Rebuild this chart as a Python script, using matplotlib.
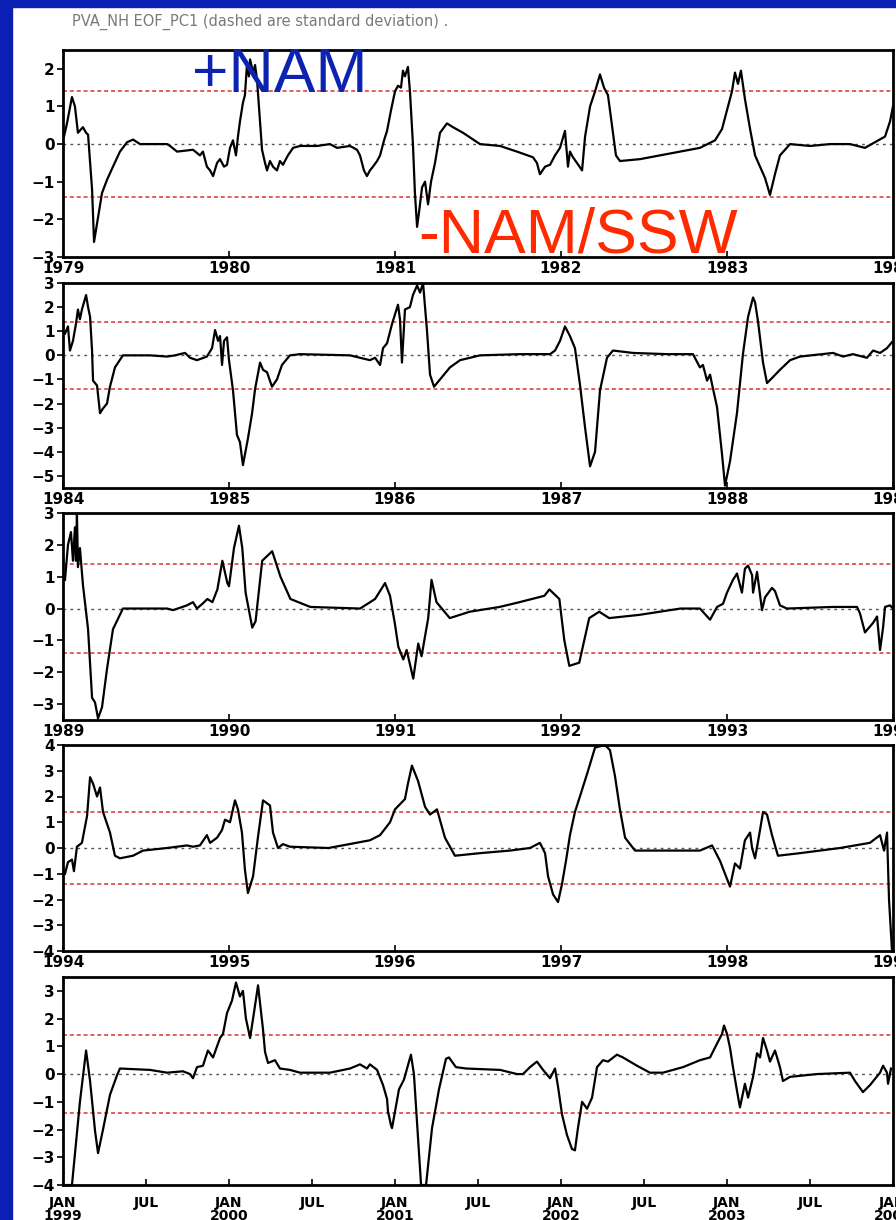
import matplotlib
matplotlib.use("Agg")
import matplotlib.pyplot as plt
from matplotlib.patches import Rectangle
import numpy as np

# PVA_NH EOF PC1, one row per five winters; times are years since Jan of the row's first year
start_years = [1979, 1984, 1989, 1994, 1999]
ylims = [(-3, 2.5), (-5.5, 3), (-3.5, 3), (-4, 4), (-4, 3.5)]
yticks = [range(-3, 3), range(-5, 4), range(-3, 4), range(-4, 5), range(-4, 4)]
std_dev = 1.4

t1 = [0.006, 0.024, 0.054, 0.072, 0.09, 0.12, 0.139, 0.151, 0.175, 0.187, 0.211, 0.235, 0.265,
      0.301, 0.343, 0.386, 0.422, 0.464, 0.542, 0.627, 0.645, 0.687, 0.783, 0.825, 0.843, 0.867,
      0.886, 0.904, 0.928, 0.946, 0.97, 0.988, 1.006, 1.024, 1.042, 1.054, 1.066, 1.084, 1.096,
      1.108, 1.12, 1.127, 1.145, 1.157, 1.169, 1.187, 1.199, 1.217, 1.229, 1.247, 1.265, 1.289,
      1.307, 1.325, 1.355, 1.386, 1.428, 1.53, 1.608, 1.651, 1.729, 1.771, 1.789, 1.813, 1.831,
      1.849, 1.867, 1.892, 1.91, 1.934, 1.952, 1.976, 2.0, 2.018, 2.036, 2.048, 2.06, 2.078,
      2.09, 2.108, 2.12, 2.133, 2.145, 2.163, 2.181, 2.199, 2.217, 2.241, 2.271, 2.313, 2.349,
      2.41, 2.512, 2.633, 2.735, 2.831, 2.855, 2.873, 2.904, 2.934, 2.964, 2.994, 3.024, 3.042,
      3.054, 3.072, 3.096, 3.127, 3.145, 3.175, 3.205, 3.235, 3.259, 3.283, 3.307, 3.331, 3.355,
      3.476, 3.596, 3.717, 3.837, 3.928, 3.97, 4.006, 4.03, 4.048, 4.066, 4.084, 4.108, 4.139,
      4.169, 4.199, 4.229, 4.259, 4.289, 4.319, 4.38, 4.5, 4.62, 4.741, 4.831, 4.892, 4.952,
      4.982, 5.0]
v1 = [0.2, 0.55, 1.25, 1.0, 0.3, 0.45, 0.3, 0.25, -1.2, -2.6, -1.95, -1.3, -0.95,
      -0.6, -0.2, 0.05, 0.12, 0.0, 0.0, 0.0, -0.05, -0.2, -0.15, -0.3, -0.2, -0.6,
      -0.7, -0.85, -0.5, -0.4, -0.6, -0.55, -0.1, 0.1, -0.3, 0.2, 0.6, 1.1, 1.3,
      2.1, 1.8, 2.25, 1.9, 2.1, 1.7, 0.6, -0.15, -0.5, -0.7, -0.45, -0.6, -0.7,
      -0.45, -0.55, -0.3, -0.1, -0.05, -0.05, 0.0, -0.1, -0.05, -0.15, -0.3, -0.7, -0.85,
      -0.7, -0.6, -0.45, -0.3, 0.1, 0.35, 0.9, 1.4, 1.55, 1.5, 1.95, 1.8, 2.05,
      1.4, 0.0, -1.3, -2.2, -1.8, -1.15, -1.0, -1.6, -1.0, -0.5, 0.3, 0.55, 0.45,
      0.3, 0.0, -0.05, -0.2, -0.35, -0.5, -0.8, -0.6, -0.55, -0.3, -0.1, 0.35, -0.6,
      -0.2, -0.35, -0.5, -0.7, 0.2, 1.0, 1.4, 1.85, 1.5, 1.3, 0.5, -0.3, -0.45,
      -0.4, -0.3, -0.2, -0.1, 0.1, 0.4, 1.0, 1.4, 1.9, 1.6, 1.95, 1.2, 0.4,
      -0.3, -0.6, -0.9, -1.35, -0.8, -0.3, 0.0, -0.05, 0.0, 0.0, -0.1, 0.05, 0.2,
      0.6, 1.0]

t2 = [0.012, 0.03, 0.042, 0.06, 0.078, 0.09, 0.102, 0.114, 0.139, 0.151, 0.163, 0.175, 0.181,
      0.205, 0.223, 0.241, 0.265, 0.283, 0.313, 0.361, 0.524, 0.627, 0.675, 0.735, 0.765, 0.807,
      0.867, 0.898, 0.916, 0.934, 0.946, 0.958, 0.97, 0.988, 1.0, 1.024, 1.048, 1.066, 1.084,
      1.114, 1.139, 1.157, 1.187, 1.205, 1.229, 1.259, 1.289, 1.319, 1.367, 1.428, 1.729, 1.849,
      1.88, 1.91, 1.928, 1.952, 1.982, 2.0, 2.018, 2.03, 2.042, 2.06, 2.09, 2.108, 2.133, 2.151,
      2.169, 2.193, 2.211, 2.235, 2.271, 2.331, 2.392, 2.512, 2.753, 2.934, 2.964, 2.994, 3.024,
      3.054, 3.084, 3.114, 3.145, 3.175, 3.205, 3.235, 3.277, 3.313, 3.434, 3.639, 3.795, 3.837,
      3.855, 3.88, 3.898, 3.91, 3.94, 3.97, 3.988, 4.018, 4.06, 4.096, 4.127, 4.157, 4.169,
      4.187, 4.217, 4.241, 4.277, 4.319, 4.38, 4.44, 4.639, 4.699, 4.759, 4.843, 4.88, 4.922,
      4.964, 4.994]
v2 = [0.9, 1.2, 0.2, 0.6, 1.3, 1.9, 1.5, 1.9, 2.5, 2.0, 1.6, 0.2, -1.05,
      -1.25, -2.4, -2.2, -2.0, -1.3, -0.5, 0.0, 0.0, -0.05, 0.0, 0.1, -0.1, -0.2,
      -0.05, 0.3, 1.05, 0.6, 0.8, -0.4, 0.6, 0.75, -0.2, -1.45, -3.3, -3.6, -4.55,
      -3.45, -2.4, -1.4, -0.3, -0.6, -0.7, -1.3, -1.0, -0.4, 0.0, 0.05, 0.0, -0.2,
      -0.1, -0.4, 0.3, 0.5, 1.3, 1.7, 2.1, 1.5, -0.3, 1.9, 2.0, 2.5, 2.9, 2.6,
      3.0, 1.0, -0.8, -1.3, -1.0, -0.5, -0.2, 0.0, 0.05, 0.05, 0.2, 0.6, 1.2,
      0.8, 0.3, -1.2, -3.0, -4.6, -4.0, -1.45, -0.1, 0.2, 0.1, 0.05, 0.05, -0.5,
      -0.4, -1.05, -0.8, -1.2, -2.15, -4.1, -5.4, -4.4, -2.4, 0.05, 1.6, 2.4, 2.2,
      1.4, -0.3, -1.15, -0.9, -0.6, -0.2, -0.05, 0.1, -0.05, 0.05, -0.1, 0.2, 0.1,
      0.3, 0.55]

t3 = [0.012, 0.03, 0.048, 0.06, 0.072, 0.078, 0.084, 0.09, 0.102, 0.12, 0.151, 0.175, 0.193,
      0.211, 0.235, 0.265, 0.301, 0.361, 0.627, 0.663, 0.747, 0.783, 0.807, 0.84, 0.87, 0.9,
      0.93, 0.96, 0.99, 1.0, 1.03, 1.06, 1.08, 1.1, 1.14, 1.16, 1.2, 1.26, 1.31, 1.37, 1.49,
      1.79, 1.88, 1.94, 1.97, 2.0, 2.02, 2.05, 2.07, 2.11, 2.14, 2.16, 2.2, 2.22, 2.25, 2.33,
      2.45, 2.63, 2.75, 2.9, 2.93, 2.99, 3.02, 3.05, 3.11, 3.17, 3.23, 3.29, 3.47, 3.72, 3.837,
      3.898, 3.94, 3.976, 4.0, 4.036, 4.06, 4.09, 4.108, 4.127, 4.151, 4.157, 4.181, 4.211,
      4.229, 4.271, 4.289, 4.319, 4.361, 4.639, 4.783, 4.801, 4.831, 4.88, 4.904, 4.922, 4.94,
      4.952, 4.982, 5.0]
v3 = [0.9, 2.0, 2.4, 1.5, 2.55, 1.5, 3.0, 1.3, 1.9, 0.75, -0.65, -2.8, -2.95,
      -3.45, -3.1, -1.9, -0.65, 0.0, 0.0, -0.05, 0.1, 0.2, 0.0, 0.15, 0.3, 0.2,
      0.6, 1.5, 0.8, 0.7, 1.9, 2.6, 1.9, 0.5, -0.6, -0.4, 1.5, 1.8, 1.0, 0.3, 0.05,
      0.0, 0.3, 0.8, 0.4, -0.5, -1.2, -1.6, -1.3, -2.2, -1.1, -1.5, -0.3, 0.9, 0.2, -0.3,
      -0.1, 0.05, 0.2, 0.4, 0.6, 0.3, -1.0, -1.8, -1.7, -0.3, -0.1, -0.3, -0.2, 0.0, 0.0,
      -0.35, 0.05, 0.15, 0.5, 0.9, 1.1, 0.5, 1.25, 1.35, 1.05, 0.5, 1.15, -0.05,
      0.35, 0.65, 0.55, 0.1, 0.0, 0.05, 0.05, -0.15, -0.75, -0.45, -0.25, -1.3, -0.6,
      0.05, 0.1, 0.0]

t4 = [0.012, 0.03, 0.054, 0.066, 0.084, 0.114, 0.145, 0.163, 0.181, 0.205, 0.223, 0.241, 0.283,
      0.313, 0.343, 0.422, 0.482, 0.627, 0.747, 0.783, 0.825, 0.867, 0.886, 0.928, 0.958, 0.976,
      1.006, 1.036, 1.054, 1.078, 1.096, 1.114, 1.145, 1.175, 1.205, 1.247, 1.265, 1.295, 1.325,
      1.367, 1.6, 1.849, 1.91, 1.97, 2.0, 2.06, 2.078, 2.102, 2.139, 2.181, 2.211, 2.253, 2.301,
      2.361, 2.512, 2.693, 2.813, 2.873, 2.904, 2.922, 2.952, 2.982, 3.006, 3.03, 3.054, 3.084,
      3.114, 3.163, 3.205, 3.265, 3.295, 3.325, 3.355, 3.386, 3.446, 3.837, 3.91, 3.958, 3.988,
      4.018, 4.048, 4.078, 4.108, 4.139, 4.151, 4.169, 4.199, 4.217, 4.241, 4.271, 4.307, 4.44,
      4.681, 4.861, 4.922, 4.946, 4.964, 4.976, 4.994]
v4 = [-1.0, -0.55, -0.45, -0.9, 0.05, 0.2, 1.25, 2.75, 2.5, 2.0, 2.35, 1.4, 0.6,
      -0.3, -0.4, -0.3, -0.1, 0.0, 0.1, 0.05, 0.1, 0.5, 0.2, 0.4, 0.7, 1.1,
      1.0, 1.85, 1.5, 0.6, -0.85, -1.75, -1.1, 0.45, 1.85, 1.65, 0.6, 0.0, 0.15,
      0.05, 0.0, 0.3, 0.5, 1.0, 1.5, 1.9, 2.5, 3.2, 2.6, 1.6, 1.3, 1.5, 0.4,
      -0.3, -0.2, -0.1, 0.0, 0.2, -0.2, -1.1, -1.8, -2.1, -1.4, -0.5, 0.5, 1.4,
      2.0, 3.0, 3.9, 4.0, 3.8, 2.8, 1.5, 0.4, -0.1, -0.1, 0.1, -0.5, -1.0,
      -1.5, -0.6, -0.8, 0.3, 0.6, 0.0, -0.4, 0.7, 1.4, 1.3, 0.5, -0.3, -0.2,
      0.0, 0.2, 0.5, -0.1, 0.6, -2.0, -4.0]

t5 = [0.024, 0.054, 0.102, 0.139, 0.163, 0.193, 0.211, 0.241, 0.283, 0.325, 0.343, 0.524, 0.627,
      0.723, 0.765, 0.783, 0.807, 0.843, 0.873, 0.904, 0.946, 0.964, 0.988, 1.018, 1.042, 1.066,
      1.084, 1.102, 1.127, 1.145, 1.175, 1.205, 1.217, 1.235, 1.277, 1.307, 1.367, 1.428, 1.608,
      1.729, 1.789, 1.831, 1.849, 1.892, 1.928, 1.952, 1.958, 1.976, 1.982, 2.024, 2.054, 2.096,
      2.114, 2.157, 2.187, 2.223, 2.265, 2.307, 2.325, 2.367, 2.428, 2.633, 2.735, 2.771, 2.813,
      2.855, 2.892, 2.934, 2.964, 2.982, 3.006, 3.036, 3.066, 3.084, 3.102, 3.127, 3.157, 3.187,
      3.217, 3.253, 3.283, 3.337, 3.373, 3.458, 3.536, 3.614, 3.735, 3.837, 3.898, 3.94, 3.97,
      3.982, 4.0, 4.018, 4.036, 4.06, 4.078, 4.108, 4.127, 4.157, 4.181, 4.199, 4.217, 4.241,
      4.259, 4.289, 4.319, 4.337, 4.38, 4.542, 4.741, 4.771, 4.819, 4.861, 4.922, 4.94, 4.964,
      4.97, 4.988]
v5 = [-4.0, -4.0, -1.0, 0.85, -0.25, -2.05, -2.85, -2.0, -0.75, -0.05, 0.2, 0.15, 0.05,
      0.1, 0.0, -0.15, 0.25, 0.3, 0.85, 0.6, 1.3, 1.45, 2.2, 2.65, 3.3, 2.8,
      3.0, 2.0, 1.3, 2.0, 3.2, 1.6, 0.8, 0.4, 0.5, 0.2, 0.15, 0.05, 0.05,
      0.2, 0.35, 0.2, 0.35, 0.15, -0.4, -0.9, -1.35, -1.85, -1.95, -0.55, -0.2, 0.7,
      0.0, -4.0, -4.0, -1.95, -0.55, 0.55, 0.6, 0.25, 0.2, 0.15, 0.0, 0.0, 0.25,
      0.45, 0.15, -0.15, 0.2, -0.45, -1.45, -2.2, -2.7, -2.75, -1.95, -1.0, -1.25, -0.85,
      0.25, 0.5, 0.45, 0.7, 0.6, 0.3, 0.05, 0.05, 0.25, 0.5, 0.6, 1.1, 1.45,
      1.75, 1.45, 0.95, 0.25, -0.6, -1.2, -0.35, -0.85, -0.1, 0.75, 0.6, 1.3, 0.85,
      0.45, 0.85, 0.25, -0.25, -0.1, 0.0, 0.05, -0.25, -0.65, -0.4, 0.05, 0.3, 0.05,
      -0.35, 0.2]

series = [(t1, v1), (t2, v2), (t3, v3), (t4, v4), (t5, v5)]

month_labels = ["JAN\n1999", "JUL", "JAN\n2000", "JUL", "JAN\n2001", "JUL",
                "JAN\n2002", "JUL", "JAN\n2003", "JUL", "JAN\n2004"]

border_blue = "#0b1fb4"
W, H = 896, 1220
fig = plt.figure(figsize=(W / 100, H / 100), dpi=100, facecolor="white")

# panel frames in pixels: (top, bottom)
frames = [(50, 257), (283, 488), (513, 720), (745, 951), (977, 1185)]
left_px, right_px = 63, 893

narrow = ["Liberation Sans Narrow", "DejaVu Sans"]
tick_font = dict(family=narrow, weight="bold", size=11)

axes = []
for i, (start, (top, bot)) in enumerate(zip(start_years, frames)):
    ax = fig.add_axes([left_px / W, 1 - bot / H, (right_px - left_px) / W, (bot - top) / H])
    t, v = series[i]
    ax.plot(start + np.array(t), v, color="black", lw=1.6, zorder=3)
    ax.axhline(0, color="#555555", lw=1.0, ls=(0, (2, 3)), zorder=2)
    for s in (std_dev, -std_dev):
        ax.axhline(s, color="#e05050", lw=1.3, ls=(0, (2.2, 1.6)), zorder=2)
    ax.set_xlim(start, start + 5)
    ax.set_ylim(*ylims[i])
    ax.set_yticks(list(yticks[i]))
    ax.set_yticklabels([str(k).replace("-", "\u2212") for k in yticks[i]], fontdict=tick_font)
    if i < 4:
        yrs = list(range(start, start + 6))
        ax.set_xticks(yrs)
        ax.set_xticklabels([str(y) for y in yrs], fontdict=tick_font)
        ax.tick_params(axis="x", direction="in", length=4, width=1.2, pad=3)
    else:
        ticks = [start + 0.5 * k for k in range(11)]
        ax.set_xticks(ticks)
        ax.set_xticklabels(month_labels, fontdict=dict(family=narrow, weight="bold", size=10),
                           linespacing=0.9)
        ax.tick_params(axis="x", direction="in", length=4, width=1.2, pad=8)
    ax.tick_params(axis="y", direction="out", length=4, width=1.2, pad=2)
    for sp in ax.spines.values():
        sp.set_linewidth(2.0)
    axes.append(ax)

# labels for the opposite phases of the annular mode
axes[0].text(1979.78, 1.39, "+NAM", color="#0c22b0", fontsize=45, family="Liberation Sans",
             va="baseline", ha="left", clip_on=False, zorder=5)
axes[0].text(1981.14, -2.88, "-NAM/SSW", color="#ff2a00", fontsize=45, family="Liberation Sans",
             va="baseline", ha="left", clip_on=False, zorder=5)

fig.text(72 / W, 1 - 22 / H, "PVA_NH EOF_PC1 (dashed are standard deviation) .",
         color="#7a7a7a", fontsize=10.5, family=narrow, va="center", ha="left")

# blue slide border along the left and top
fig.patches.append(Rectangle((0, 0), 12 / W, 1, transform=fig.transFigure,
                             color=border_blue, zorder=10))
fig.patches.append(Rectangle((0, 1 - 7 / H), 1, 7 / H, transform=fig.transFigure,
                             color=border_blue, zorder=10))

fig.savefig("out.png", dpi=100, facecolor="white")
